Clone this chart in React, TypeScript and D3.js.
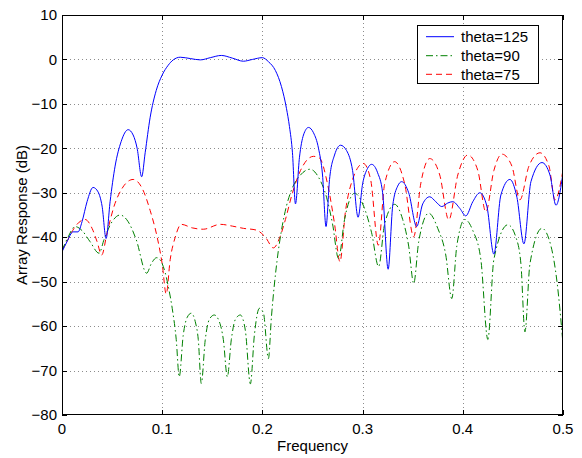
import React, { useEffect, useRef } from 'react';
import * as d3 from 'd3';

// frequency / dB pairs
const theta125: [number, number][] = [
  [0, -43.3], [0.005, -41], [0.011, -38.8], [0.016, -38.8], [0.02, -36.5], [0.025, -32],
  [0.031, -28.8], [0.036, -29.8], [0.04, -33], [0.044, -40.3], [0.048, -32], [0.053, -24],
  [0.059, -18.5], [0.066, -15.8], [0.071, -17], [0.075, -20], [0.0795, -26.4], [0.083, -21],
  [0.088, -13], [0.094, -7], [0.1, -3.5], [0.106, -1.3], [0.111, -0.1], [0.118, 0.5],
  [0.128, 0.2], [0.138, -0.1], [0.148, 0.4], [0.159, 0.9], [0.17, 0.3], [0.181, -0.4],
  [0.19, 0], [0.2, 0.4], [0.206, -0.5], [0.213, -2.5], [0.219, -6.1], [0.224, -11],
  [0.227, -15.1], [0.23, -21], [0.233, -32.5], [0.237, -22], [0.241, -17], [0.246, -15.3],
  [0.251, -16.5], [0.256, -20], [0.26, -26], [0.2635, -37.6], [0.267, -27], [0.272, -21.5],
  [0.278, -19.3], [0.284, -20.5], [0.29, -25], [0.2955, -35.5], [0.3, -28], [0.305, -24.5],
  [0.309, -23.6], [0.315, -25.5], [0.32, -30], [0.3255, -47.2], [0.33, -33], [0.335, -28.5],
  [0.339, -27.5], [0.346, -30], [0.354, -37.6], [0.36, -32.5], [0.367, -30.9], [0.373, -32],
  [0.379, -33.1], [0.385, -32.3], [0.39, -32], [0.397, -33.5], [0.403, -35.2], [0.41, -32],
  [0.417, -30], [0.424, -33], [0.431, -43.8], [0.438, -30.5], [0.447, -27], [0.454, -31],
  [0.461, -41.5], [0.468, -27.5], [0.479, -23.2], [0.487, -26], [0.493, -32.8], [0.5, -25.5],
];

const theta90: [number, number][] = [
  [0, -43], [0.006, -40], [0.013, -37.6], [0.02, -38.5], [0.028, -41], [0.037, -43.6],
  [0.042, -40.5], [0.05, -36.5], [0.058, -35], [0.066, -36.5], [0.074, -40.5], [0.0845, -48.1],
  [0.089, -46], [0.0945, -44.6], [0.099, -45.5], [0.103, -48], [0.106, -51], [0.11, -56],
  [0.114, -63], [0.117, -71.4], [0.121, -62], [0.125, -58], [0.129, -57.1], [0.133, -59],
  [0.136, -63], [0.139, -72.9], [0.143, -63], [0.147, -58.5], [0.152, -57.5], [0.157, -59],
  [0.161, -63], [0.165, -71.4], [0.169, -63], [0.173, -58.5], [0.178, -57.5], [0.183, -61],
  [0.188, -73], [0.192, -62], [0.197, -56], [0.201, -57], [0.206, -67.3], [0.209, -58],
  [0.2145, -45.5], [0.219, -38.5], [0.224, -33], [0.229, -29.4], [0.238, -26], [0.2475, -24.7],
  [0.256, -26.5], [0.264, -31], [0.27, -37], [0.276, -44.8], [0.282, -36], [0.292, -30.1],
  [0.301, -33], [0.309, -39], [0.316, -46.6], [0.322, -37], [0.332, -32.6], [0.34, -36],
  [0.346, -42], [0.351, -50.4], [0.356, -41], [0.366, -34.6], [0.375, -38], [0.383, -44],
  [0.389, -53.8], [0.394, -42], [0.402, -36], [0.41, -38.5], [0.418, -45], [0.425, -63],
  [0.431, -45], [0.445, -37.2], [0.453, -40], [0.458, -46], [0.462, -61.3], [0.467, -46],
  [0.479, -38], [0.488, -42], [0.494, -50], [0.5, -64],
];

const theta75: [number, number][] = [
  [0, -43], [0.006, -40.5], [0.012, -38], [0.023, -36], [0.03, -38], [0.035, -41],
  [0.0396, -44], [0.045, -39], [0.052, -33], [0.06, -29], [0.071, -27], [0.08, -29],
  [0.088, -34], [0.095, -40], [0.1, -46], [0.104, -52.8], [0.108, -45], [0.113, -40],
  [0.119, -37.1], [0.13, -37.9], [0.141, -38.2], [0.158, -37.1], [0.17, -37.5], [0.181, -38],
  [0.194, -38.4], [0.203, -40], [0.211, -42.4], [0.2176, -39.9], [0.223, -36], [0.23, -30],
  [0.238, -25], [0.251, -21.8], [0.257, -22.2], [0.265, -28], [0.272, -37], [0.2774, -45.5],
  [0.283, -34], [0.29, -27], [0.3007, -23.4], [0.308, -27], [0.3157, -41.8], [0.322, -28],
  [0.332, -23], [0.342, -28], [0.351, -39.9], [0.358, -28], [0.367, -22.3], [0.377, -26],
  [0.386, -36.1], [0.395, -26], [0.405, -21.5], [0.415, -25], [0.423, -34.3], [0.431, -25],
  [0.439, -21.3], [0.449, -24], [0.457, -31.6], [0.466, -24], [0.477, -21], [0.486, -24],
  [0.492, -31.6], [0.5, -24.9],
];

const seriesNames = ['theta=125', 'theta=90', 'theta=75'];
const xTicks = [0, 0.1, 0.2, 0.3, 0.4, 0.5];
const yTicks = [10, 0, -10, -20, -30, -40, -50, -60, -70, -80];

const font = '"Liberation Sans", Arial, Helvetica, sans-serif';

export default function App() {
  const ref = useRef<SVGSVGElement>(null);

  useEffect(() => {
    const svg = d3.select(ref.current);
    svg.selectAll('*').remove();

    const left = 62, right = 563, top = 15, bottom = 415;
    const x = d3.scaleLinear().domain([0, 0.5]).range([left, right]);
    const y = d3.scaleLinear().domain([-80, 10]).range([bottom, top]);

    svg.append('rect').attr('x', 0).attr('y', 0).attr('width', 582).attr('height', 458).attr('fill', '#fff');

    svg.append('clipPath').attr('id', 'plot-clip')
      .append('rect')
      .attr('x', left).attr('y', top)
      .attr('width', right - left).attr('height', bottom - top);

    // dotted grid
    const grid = svg.append('g')
      .attr('stroke', '#000')
      .attr('stroke-opacity', 0.45)
      .attr('stroke-dasharray', '1,3');
    xTicks.filter(t => t > 0 && t < 0.5).forEach(t => {
      grid.append('line')
        .attr('x1', Math.round(x(t)) + 0.5).attr('x2', Math.round(x(t)) + 0.5)
        .attr('y1', top).attr('y2', bottom);
    });
    yTicks.filter(t => t > -80 && t < 10).forEach(t => {
      grid.append('line')
        .attr('x1', left).attr('x2', right)
        .attr('y1', Math.round(y(t)) + 0.5).attr('y2', Math.round(y(t)) + 0.5);
    });

    // curves
    const line = d3.line<[number, number]>()
      .x(d => x(d[0]))
      .y(d => y(d[1]))
      .curve(d3.curveMonotoneX);

    const styles = [
      { data: theta125, color: '#0000ff', dash: null },
      { data: theta90, color: '#008000', dash: '7,3,1.5,3' },
      { data: theta75, color: '#ff0000', dash: '6,4' },
    ];

    const plot = svg.append('g').attr('clip-path', 'url(#plot-clip)');
    styles.slice().reverse().forEach(s => {
      plot.append('path')
        .datum(s.data)
        .attr('fill', 'none')
        .attr('stroke', s.color)
        .attr('stroke-width', 1)
        .attr('stroke-dasharray', s.dash)
        .attr('d', line);
    });

    // box and ticks
    svg.append('rect')
      .attr('x', left + 0.5).attr('y', top + 0.5)
      .attr('width', right - left - 1).attr('height', bottom - top - 1)
      .attr('fill', 'none').attr('stroke', '#000');

    const ticks = svg.append('g').attr('stroke', '#000');
    xTicks.forEach(t => {
      const px = Math.round(x(t)) + 0.5;
      ticks.append('line').attr('x1', px).attr('x2', px).attr('y1', bottom).attr('y2', bottom - 5);
      ticks.append('line').attr('x1', px).attr('x2', px).attr('y1', top).attr('y2', top + 5);
    });
    yTicks.forEach(t => {
      const py = Math.round(y(t)) + 0.5;
      ticks.append('line').attr('x1', left).attr('x2', left + 5).attr('y1', py).attr('y2', py);
      ticks.append('line').attr('x1', right).attr('x2', right - 5).attr('y1', py).attr('y2', py);
    });

    const labels = svg.append('g')
      .attr('font-family', font)
      .attr('font-size', 15)
      .attr('fill', '#000');

    xTicks.forEach(t => {
      labels.append('text')
        .attr('x', x(t)).attr('y', 434)
        .attr('text-anchor', 'middle')
        .text(d3.format('')(t));
    });
    yTicks.forEach(t => {
      labels.append('text')
        .attr('x', 57).attr('y', y(t))
        .attr('dy', '0.35em')
        .attr('text-anchor', 'end')
        .text(d3.format('')(t));
    });

    labels.append('text')
      .attr('x', (left + right) / 2).attr('y', 450.5)
      .attr('text-anchor', 'middle')
      .text('Frequency');

    labels.append('text')
      .attr('transform', 'translate(27,' + (top + bottom) / 2 + ') rotate(-90)')
      .attr('text-anchor', 'middle')
      .text('Array Response (dB)');

    // legend
    const lg = svg.append('g');
    lg.append('rect')
      .attr('x', 417.5).attr('y', 25.5)
      .attr('width', 121).attr('height', 58)
      .attr('fill', '#fff').attr('stroke', '#000');
    const rowY = [36.7, 55.7, 74.3];
    styles.forEach((s, i) => {
      lg.append('line')
        .attr('x1', 426).attr('x2', 454)
        .attr('y1', rowY[i]).attr('y2', rowY[i])
        .attr('stroke', s.color)
        .attr('stroke-dasharray', s.dash);
      lg.append('text')
        .attr('x', 461).attr('y', rowY[i])
        .attr('dy', '0.35em')
        .attr('font-family', font)
        .attr('font-size', 15)
        .text(seriesNames[i]);
    });
  }, []);

  return (
    <svg ref={ref} width={582} height={458}
      style={{ position: 'absolute', left: 0, top: 0, display: 'block' }} />
  );
}
